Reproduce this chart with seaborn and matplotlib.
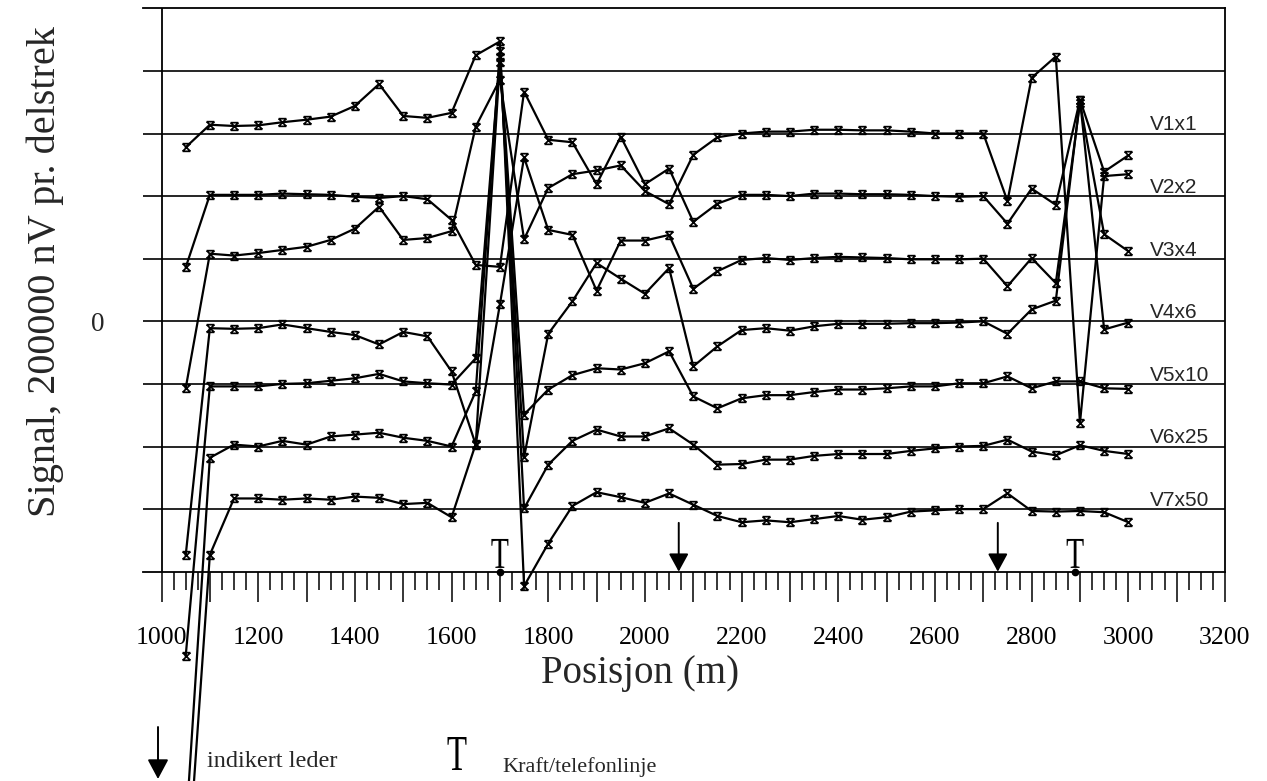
import matplotlib
matplotlib.use("Agg")
import matplotlib.pyplot as plt
import numpy as np
import pandas as pd
import seaborn as sns
from matplotlib.path import Path
from matplotlib.textpath import TextPath
from matplotlib.font_manager import FontProperties
from matplotlib.patches import PathPatch
from matplotlib.transforms import Affine2D, ScaledTranslation
from matplotlib.ticker import FixedLocator, FixedFormatter

# Profile positions (m)
positions = list(range(1050, 3001, 50))

# Stacked signal curves on the common scale (divisions of 200000 nV, 0 = V4x6 line)
v1x1 = [-1.07, 1.08, 1.05, 1.09, 1.14, 1.19, 1.30, 1.48, 1.83, 1.30,
        1.33, 1.44, 3.11, 3.86, 1.31, 2.13, 2.35, 2.41, 2.49, 2.08,
        1.87, 2.66, 2.94, 3.00, 3.03, 3.03, 3.06, 3.06, 3.05, 3.05,
        3.03, 3.00, 3.00, 3.00, 1.92, 3.89, 4.23, -1.62, 2.32, 2.35]
v2x2 = [0.86, 2.02, 2.02, 2.02, 2.04, 2.03, 2.02, 1.99, 1.97, 2.00,
        1.95, 1.62, 0.90, 0.87, 3.67, 2.90, 2.86, 2.19, 2.95, 2.19,
        2.44, 1.59, 1.88, 2.02, 2.02, 2.00, 2.04, 2.04, 2.03, 2.03,
        2.02, 2.00, 1.99, 2.00, 1.56, 2.12, 1.86, 3.54, 2.39, 2.65]
v3x4 = [-9.25, -3.73, -2.83, -2.83, -2.85, -2.83, -2.85, -2.80, -2.82, -2.92,
        -2.90, -3.13, -1.96, 0.27, 2.62, 1.46, 1.38, 0.49, 1.29, 1.29,
        1.38, 0.52, 0.80, 0.98, 1.01, 0.98, 1.01, 1.03, 1.02, 1.01,
        0.99, 0.99, 0.99, 1.00, 0.56, 1.01, 0.61, 3.49, 1.39, 1.12]
v4x6 = [-3.74, -0.11, -0.12, -0.11, -0.05, -0.11, -0.17, -0.22, -0.37, -0.17,
        -0.24, -0.80, -1.97, 4.15, -2.17, -0.20, 0.32, 0.93, 0.68, 0.44,
        0.85, -0.72, -0.40, -0.14, -0.11, -0.15, -0.08, -0.04, -0.04, -0.04,
        -0.03, -0.03, -0.02, 0.00, -0.20, 0.19, 0.33, 3.54, -0.13, -0.02]
v5x10 = [-5.35, -1.04, -1.04, -1.04, -1.00, -0.99, -0.95, -0.91, -0.84, -0.96,
         -0.99, -1.01, -0.59, 4.23, -1.49, -1.09, -0.86, -0.75, -0.77, -0.67,
         -0.48, -1.20, -1.39, -1.23, -1.18, -1.18, -1.13, -1.09, -1.09, -1.07,
         -1.04, -1.04, -0.99, -0.99, -0.88, -1.07, -0.96, -0.96, -1.07, -1.08]
v6x25 = [-8.15, -2.18, -1.97, -2.00, -1.91, -1.97, -1.84, -1.81, -1.78, -1.86,
         -1.91, -2.00, -1.12, 4.31, -2.99, -2.29, -1.91, -1.73, -1.84, -1.84,
         -1.71, -1.97, -2.29, -2.28, -2.21, -2.21, -2.15, -2.12, -2.12, -2.12,
         -2.07, -2.03, -2.00, -1.99, -1.89, -2.08, -2.14, -1.98, -2.07, -2.12]
v7x50 = [2.78, 3.14, 3.12, 3.13, 3.18, 3.22, 3.27, 3.44, 3.79, 3.28,
         3.25, 3.33, 4.25, 4.47, -4.23, -3.55, -2.95, -2.73, -2.81, -2.90,
         -2.75, -2.93, -3.11, -3.21, -3.18, -3.21, -3.16, -3.11, -3.17, -3.13,
         -3.04, -3.02, -3.00, -3.00, -2.75, -3.03, -3.04, -3.03, -3.05, -3.21]

trace_names = ["V1x1", "V2x2", "V3x4", "V4x6", "V5x10", "V6x25", "V7x50"]
trace_values = [v1x1, v2x2, v3x4, v4x6, v5x10, v6x25, v7x50]
trace_levels = [3, 2, 1, 0, -1, -2, -3]

conductor_marks = [2070, 2730]     # indikert leder
powerline_marks = [1700, 2890]     # kraft/telefonlinje

x_tick_labels = ["1000", "1200", "1400", "1600", "1800", "2000",
                 "2200", "2400", "2600", "2800", "3000", "3200"]

df = pd.concat([pd.DataFrame({"posisjon": positions, "signal": vals, "kanal": name})
                for name, vals in zip(trace_names, trace_values)], ignore_index=True)

sns.set_style("white")
plt.rcParams["font.family"] = ["Liberation Serif", "DejaVu Serif"]

W, H = 1267, 781
fig = plt.figure(figsize=(W / 100, H / 100), dpi=100)
left_px, right_px, top_px, base_px = 143, 1225, 8.3, 571.7
ax = fig.add_axes([left_px / W, (H - base_px) / H,
                   (right_px - left_px) / W, (base_px - top_px) / H])
ax.set_xlim(961.7, 3200)
ax.set_ylim(-4, 5)
ax.set_facecolor("white")

# horizontal division lines and the vertical line at 1000 m
for lvl in range(-3, 5):
    ax.axhline(lvl, color="black", lw=1.2, zorder=1)
ax.axvline(1000, color="black", lw=1.3, zorder=1)

# hourglass-style cross used as point marker
hourglass = Path([(-1, 1), (1, -1), (-1, -1), (1, 1), (-1, 1), (1, 1), (-1, -1), (1, -1)],
                 [Path.MOVETO, Path.LINETO, Path.MOVETO, Path.LINETO,
                  Path.MOVETO, Path.LINETO, Path.MOVETO, Path.LINETO])

sns.lineplot(data=df, x="posisjon", y="signal", units="kanal", estimator=None,
             sort=False, color="black", lw=1.6, marker=hourglass,
             markersize=5.5, markeredgecolor="black", markeredgewidth=1.25,
             markerfacecolor="black", clip_on=False, legend=False, ax=ax, zorder=3)

# channel labels
for name, lvl in zip(trace_names, trace_levels):
    ax.text(3045, lvl + 0.05, name, fontsize=15, family="Liberation Sans",
            ha="left", va="baseline", zorder=4)

# spines
for side in ["top", "bottom", "right"]:
    ax.spines[side].set_visible(True)
    ax.spines[side].set_color("black")
    ax.spines[side].set_linewidth(1.3)
ax.spines["left"].set_visible(False)

# x ticks
ax.xaxis.set_major_locator(FixedLocator(list(range(1000, 3201, 100))))
major_labels = []
lab_iter = iter(x_tick_labels)
for p in range(1000, 3201, 100):
    major_labels.append(next(lab_iter) if p % 200 == 0 else "")
ax.xaxis.set_major_formatter(FixedFormatter(major_labels))
ax.xaxis.set_minor_locator(FixedLocator([p for p in range(1000, 3201, 25) if p % 100]))
ax.tick_params(axis="x", which="major", direction="out", length=21.5, width=1.1,
               pad=18, labelsize=18.5, colors="black", bottom=True)
ax.tick_params(axis="x", which="minor", direction="out", length=13, width=1.1,
               colors="black", bottom=True)
ax.set_xlabel("Posisjon (m)", fontsize=28, va="top")
ax.xaxis.set_label_coords((640 - left_px) / (right_px - left_px),
                          (base_px - 655) / (base_px - top_px))

# y axis: only the zero reference line
ax.set_yticks([0])
ax.set_yticklabels(["0"])
ax.tick_params(axis="y", length=0, pad=28, labelsize=19.5)
ax.set_ylabel("Signal, 200000 nV pr. delstrek", fontsize=29)
ax.yaxis.set_label_coords((64 - left_px) / (right_px - left_px),
                          (base_px - 272) / (base_px - top_px))


def draw_t(x, y, w_px, h_px, base_transform, artist_parent):
    fp = FontProperties(family="Liberation Serif")
    tp = TextPath((0, 0), "T", size=100, prop=fp)
    ext = tp.get_extents()
    tr = (Affine2D().translate(-(ext.x0 + ext.x1) / 2, -ext.y0)
          .scale(w_px / ext.width, h_px / ext.height)
          + ScaledTranslation(x, y, base_transform))
    patch = PathPatch(tp, transform=tr, facecolor="black", edgecolor="none",
                      clip_on=False, zorder=5)
    artist_parent.add_artist(patch)


# power/telephone line symbols standing on the axis
for p in powerline_marks:
    draw_t(p, -3.94, 17, 29, ax.transData, ax)
    ax.plot([p], [-4.0], marker="o", ms=4.5, color="black", clip_on=False, zorder=5)

# indicated conductors
for p in conductor_marks:
    ax.annotate("", xy=(p, -4.0), xytext=(p, -3.22), xycoords="data",
                arrowprops=dict(arrowstyle="-|>,head_length=0.55,head_width=0.3",
                                mutation_scale=20, lw=1.4, color="black",
                                shrinkA=0, shrinkB=0), zorder=5)

# legend below the chart
ax.annotate("", xy=(158, H - 779), xytext=(158, H - 727), xycoords="figure pixels",
            arrowprops=dict(arrowstyle="-|>,head_length=0.6,head_width=0.32",
                            mutation_scale=20, lw=1.4, color="black",
                            shrinkA=0, shrinkB=0), annotation_clip=False)
fig.text(207 / W, (H - 767) / H, "indikert leder", fontsize=17.5, va="baseline")
draw_t(457 / W, (H - 770) / H, 19, 33, fig.transFigure, fig)
fig.text(502 / W, (H - 772) / H, "Kraft/telefonlinje", fontsize=16, va="baseline")

fig.savefig("out.png", dpi=100, facecolor="white")
